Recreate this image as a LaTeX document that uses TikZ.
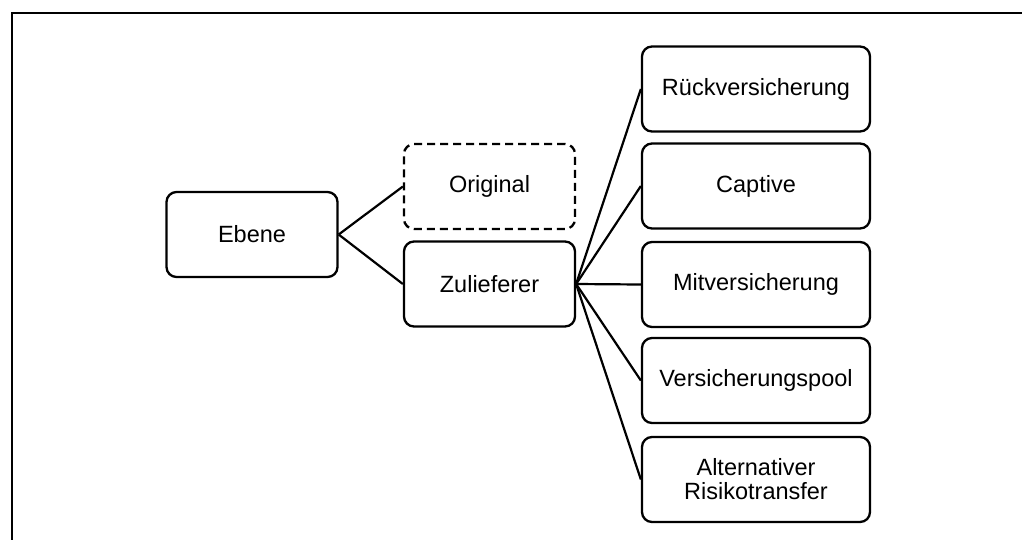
\documentclass[tikz,border=0pt]{standalone}
\usepackage{fontspec}
\setmainfont{Liberation Sans}
\tikzset{
  box/.style={draw, line width=2.3pt, rounded corners=10pt, minimum width=171pt,
    minimum height=85pt, inner sep=0pt, align=center,
    font=\fontsize{23.5}{24}\selectfont},
  widebox/.style={box, minimum width=228pt},
  dashbox/.style={box, dash pattern=on 8pt off 5pt},
  link/.style={line width=2.2pt},
  frame/.style={line width=2pt}
}
\begin{document}
\begin{tikzpicture}[x=1pt,y=-1pt]
\useasboundingbox (0,0) rectangle (1022,539);
% open frame: top and left edges
\coordinate (ftr) at (1023,13);
\coordinate (ftl) at (12,13);
\coordinate (fbl) at (12,540);
\draw[frame] (ftr) -- (ftl) -- (fbl);

% tree
\node[box] (ebene) at (252,234.5) {Ebene};
\node[dashbox] (orig) at (489.5,186.5) {Original};
\node[box] (zul) at (489.5,284) {Zulieferer};

\node[widebox] (rueck) at (756,89) {Rückversicherung};
\node[widebox] (capt) at (756,186) {Captive};
\node[widebox] (mitv) at (756,284.5) {Mitversicherung};
\node[widebox] (pool) at (756,380.5) {Versicherungspool};
\node[widebox] (alt) at (756,479.5) {Alternativer\\Risikotransfer};

\draw[link] (ebene.east) -- (orig.west);
\draw[link] (ebene.east) -- (zul.west);
\foreach \t in {rueck,capt,mitv,pool,alt}
  \draw[link] (zul.east) -- (\t.west);
\end{tikzpicture}
\end{document}
